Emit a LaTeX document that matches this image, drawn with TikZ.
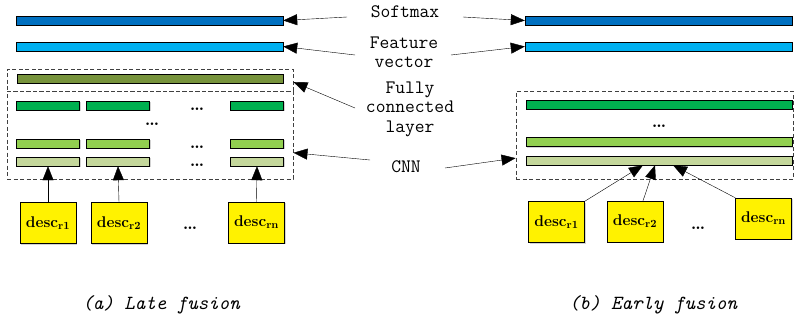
\documentclass[tikz,border=0pt]{standalone}
\usepackage{tikz}
\usetikzlibrary{
	arrows.meta,
	calc,
	positioning,
	shadows,
}
\definecolor{softmaxblue}{RGB}{0,112,192}
\definecolor{featureblue}{RGB}{0,176,240}
\definecolor{fcgreen}{RGB}{119,147,60}
\definecolor{convgreen}{RGB}{0,176,80}
\definecolor{lightgreen}{RGB}{146,208,80}
\definecolor{palegreen}{RGB}{196,215,155}
\tikzset{bar/.style={draw,thin,inner sep=0pt,minimum height=9pt,drop shadow={shadow xshift=1.2pt,shadow yshift=-1.2pt,opacity=0.35}}}
\tikzset{desc box/.style={draw,thin,fill=yellow,inner sep=0pt,minimum width=56pt,minimum height=41pt,font=\fontsize{15.5}{16}\selectfont\bfseries,drop shadow={shadow xshift=1.2pt,shadow yshift=-1.2pt,opacity=0.35}}}
\tikzset{dash box/.style={draw=black!75,line width=0.9pt,dash pattern=on 4pt off 2.5pt,inner sep=0pt}}
\tikzset{label text/.style={font=\ttfamily\fontsize{19}{19.5}\selectfont,align=center,inner sep=0pt}}
\tikzset{caption/.style={font=\ttfamily\itshape\fontsize{20}{20}\selectfont,inner sep=0pt}}
\tikzset{dots/.style={font=\fontsize{18}{18}\selectfont\bfseries,inner sep=0pt}}
\tikzset{
	>={Triangle[length=14pt,width=11pt]},
	line width=0.9pt,
}
\newcommand{\descr}[1]{desc$_{\mathbf{#1}}$}

\begin{document}
\begin{tikzpicture}[x=1pt,y=-1pt]
\useasboundingbox (0,0) rectangle (794,322);

% (a) late fusion
\node[bar,fill=softmaxblue,minimum width=267pt](sm a) at(149.5,20.5) {};
\node[bar,fill=featureblue,minimum width=267pt](fv a) at(149.5,46.5) {};
\node[dash box,minimum width=286pt,minimum height=22pt](fc box) at(150,80) {};
\node[dash box,minimum width=286pt,minimum height=88pt](cnn box a) at(150,135) {};
\node[bar,fill=fcgreen,minimum width=266pt](fc) at(150,78.5) {};

\node[bar,fill=convgreen,minimum width=63pt](g1) at(48,105.5) {};
\node[bar,fill=convgreen,minimum width=63pt](g2) at(118,105.5) {};
\node[bar,fill=convgreen,minimum width=53pt](g3) at(257,105.5) {};
\node[bar,fill=lightgreen,minimum width=63pt](l1) at(48,143.5) {};
\node[bar,fill=lightgreen,minimum width=63pt](l2) at(118,143.5) {};
\node[bar,fill=lightgreen,minimum width=53pt](l3) at(257,143.5) {};
\node[bar,fill=palegreen,minimum width=63pt](p1) at(48,161.5) {};
\node[bar,fill=palegreen,minimum width=63pt](p2) at(118,161.5) {};
\node[bar,fill=palegreen,minimum width=53pt](p3) at(257,161.5) {};

\node[dots] at(197,109) {\ldots};
\node[dots] at(152,124) {\ldots};
\node[dots] at(197,147) {\ldots};
\node[dots] at(197,165.5) {\ldots};

\node[desc box](d1) at(48,223) {\descr{r1}};
\node[desc box](d2) at(119,223) {\descr{r2}};
\node[desc box](d3) at(256.5,222.5) {\descr{rn}};
\node[dots] at(190,228) {\ldots};

\draw[->] (d1.north) -- (p1.south);
\draw[->] (d2.north) -- (p2.south);
\draw[->] (d3.north) -- (p3.south);

\node[caption](cap a) at(161,305) {(a) Late fusion};

% (b) early fusion
\node[bar,fill=softmaxblue,minimum width=267pt](sm b) at(658.5,20.5) {};
\node[bar,fill=featureblue,minimum width=267pt](fv b) at(658.5,46.5) {};
\node[dash box,minimum width=277pt,minimum height=88pt](cnn box b) at(654.5,135) {};
\node[bar,fill=convgreen,minimum width=266pt](g4) at(659,104.5) {};
\node[bar,fill=lightgreen,minimum width=266pt](l4) at(659,142) {};
\node[bar,fill=palegreen,minimum width=266pt](p4) at(659,160.5) {};
\node[dots] at(659,126) {\ldots};

\node[desc box](d4) at(556.5,222) {\descr{r1}};
\node[desc box](d5) at(635,221.5) {\descr{r2}};
\node[desc box](d6) at(763.5,218.5) {\descr{rn}};
\node[dots] at(698,228) {\ldots};

\draw[->] (d4.north east) -- ([xshift=-16pt]p4.south);
\draw[->] ([xshift=8pt]d5.north) -- ([xshift=-4pt]p4.south);
\draw[->] (d6.north west) -- ([xshift=14pt]p4.south);

\node[caption](cap b) at(653,305) {(b) Early fusion};

% labels in the middle
\node[label text](sm) at(405,12) {Softmax};
\node[label text](fv) at(404,52) {Feature\\vector};
\node[label text](fcl) at(410,109) {Fully\\connected\\layer};
\node[label text](cnn) at(406,167) {CNN};

\coordinate(sm l) at(347,17);
\coordinate(sm r) at(463,17);
\coordinate(fv l) at(355,55);
\coordinate(fv r) at(451,55);
\coordinate(fc l) at(355,108);
\coordinate(cnn l) at(370,160);
\coordinate(cnn r) at(445,168);

\draw[->] (sm l) -- (sm a.east);
\draw[->] (sm r) -- (sm b.west);
\draw[->] (fv l) -- (fv a.east);
\draw[->] (fv r) -- (fv b.west);
\draw[->] (fc l) -- ($(fc box.east)+(0,2)$);
\draw[->] (cnn l) -- ($(cnn box a.south east)!0.3!(cnn box a.north east)$);
\draw[->] (cnn r) -- ($(cnn box b.south west)!0.24!(cnn box b.north west)$);

\end{tikzpicture}
\end{document}
